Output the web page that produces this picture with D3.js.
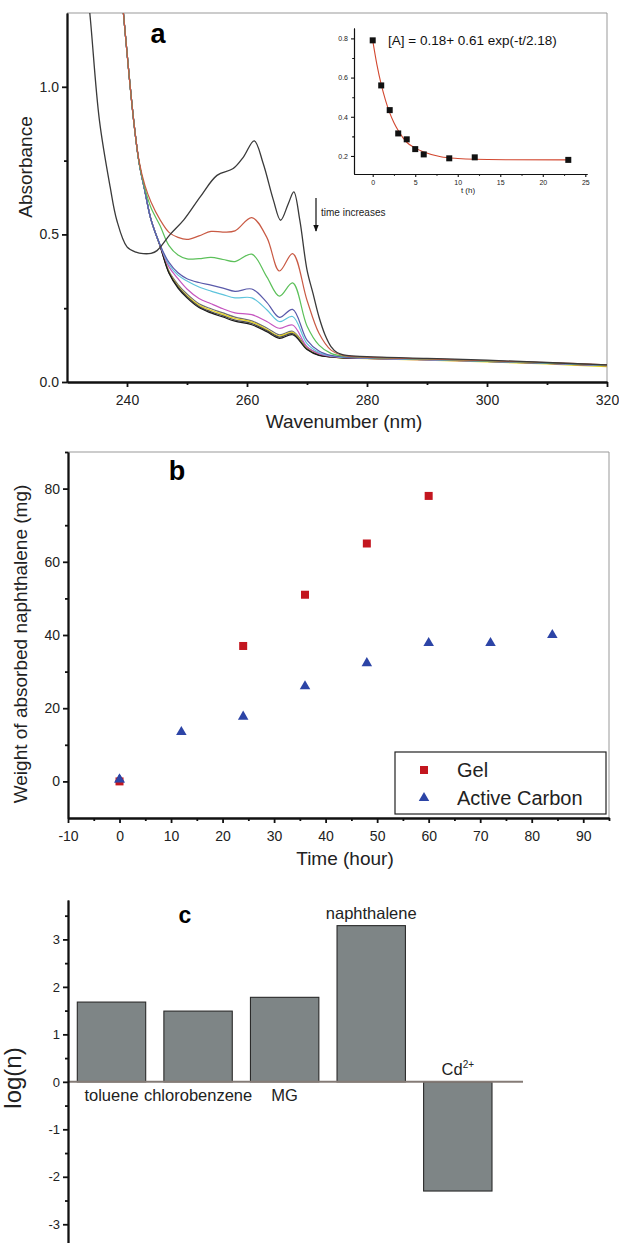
<!DOCTYPE html>
<meta charset="utf-8">
<script src="https://d3js.org/d3.v7.min.js"></script>
<style>
body { margin: 0; background: #fff; }
svg { font-family: "Liberation Sans", Arial, sans-serif; }
.frame { fill: none; stroke: #999; stroke-width: 1; }
</style>
<body>
<script>

// ---------- panel a : spectra ----------
var wlInit = [232.5, 233.8, 235.4, 237.2, 238.3, 240, 241.5, 242.7, 244, 245, 247.2, 249.5, 252.2, 255, 257.7, 259.4, 261.2, 262.7, 264.4, 265.6, 266.9, 267.8, 268.8, 270, 271, 272, 273, 274, 275, 276.6, 280, 290, 300, 310, 320];
var absInit = [1.5, 1.25, 0.887, 0.66, 0.548, 0.458, 0.44, 0.435, 0.436, 0.445, 0.50, 0.55, 0.627, 0.70, 0.723, 0.762, 0.817, 0.74, 0.616, 0.548, 0.605, 0.644, 0.548, 0.38, 0.30, 0.22, 0.16, 0.12, 0.10, 0.09, 0.086, 0.08, 0.074, 0.066, 0.058];

var wlLater = [238.5, 239.4, 240.3, 241.2, 242, 243, 244, 245.5, 247, 248.5, 250, 252, 254, 256, 258, 260.8, 263.3, 265.4, 267.6, 270, 272, 274, 276, 280, 290, 300, 310, 320];
var absRed     = [1.45, 1.25, 1.05, 0.87, 0.75, 0.665, 0.61, 0.55, 0.507, 0.49, 0.483, 0.495, 0.51, 0.508, 0.512, 0.557, 0.49, 0.376, 0.435, 0.277, 0.165, 0.108, 0.09, 0.084, 0.078, 0.072, 0.066, 0.058];
var absGreen   = [1.45, 1.25, 1.05, 0.87, 0.745, 0.655, 0.59, 0.53, 0.462, 0.43, 0.417, 0.418, 0.422, 0.415, 0.408, 0.433, 0.356, 0.291, 0.336, 0.19, 0.125, 0.097, 0.088, 0.083, 0.077, 0.071, 0.065, 0.057];
var absBlue    = [1.45, 1.25, 1.05, 0.87, 0.745, 0.645, 0.55, 0.465, 0.405, 0.37, 0.35, 0.337, 0.328, 0.318, 0.307, 0.315, 0.27, 0.219, 0.246, 0.142, 0.105, 0.09, 0.085, 0.082, 0.077, 0.071, 0.065, 0.057];
var absCyan    = [1.45, 1.25, 1.05, 0.87, 0.745, 0.645, 0.55, 0.465, 0.398, 0.362, 0.342, 0.322, 0.308, 0.296, 0.285, 0.285, 0.245, 0.205, 0.222, 0.13, 0.1, 0.088, 0.084, 0.081, 0.076, 0.07, 0.064, 0.056];
var absMagenta = [1.45, 1.25, 1.05, 0.87, 0.745, 0.645, 0.55, 0.464, 0.39, 0.35, 0.315, 0.283, 0.265, 0.248, 0.234, 0.228, 0.205, 0.182, 0.193, 0.12, 0.096, 0.087, 0.083, 0.08, 0.075, 0.07, 0.063, 0.055];
var absGray    = [1.45, 1.25, 1.05, 0.87, 0.745, 0.645, 0.55, 0.464, 0.375, 0.33, 0.298, 0.265, 0.248, 0.234, 0.22, 0.207, 0.183, 0.16, 0.172, 0.118, 0.096, 0.088, 0.084, 0.082, 0.077, 0.071, 0.065, 0.057];
var absYellow  = [1.45, 1.25, 1.05, 0.87, 0.745, 0.645, 0.55, 0.463, 0.372, 0.325, 0.292, 0.26, 0.243, 0.229, 0.215, 0.203, 0.178, 0.156, 0.168, 0.114, 0.092, 0.085, 0.081, 0.079, 0.074, 0.068, 0.061, 0.052];
var absDark    = [1.45, 1.25, 1.05, 0.87, 0.745, 0.645, 0.55, 0.462, 0.37, 0.322, 0.289, 0.256, 0.238, 0.224, 0.21, 0.198, 0.174, 0.152, 0.164, 0.112, 0.091, 0.085, 0.082, 0.08, 0.076, 0.07, 0.063, 0.055];
var absBlack   = [1.45, 1.25, 1.05, 0.87, 0.745, 0.645, 0.55, 0.461, 0.368, 0.318, 0.285, 0.252, 0.234, 0.22, 0.206, 0.194, 0.17, 0.148, 0.16, 0.11, 0.09, 0.085, 0.082, 0.08, 0.076, 0.07, 0.064, 0.056];

// inset: absorbance vs time
var insetT = [0, 1, 2, 3, 4, 5, 6, 9, 12, 23];
var insetA = [0.79, 0.56, 0.434, 0.315, 0.285, 0.235, 0.208, 0.188, 0.193, 0.18];
var fitT = [0, 0.5, 1, 1.5, 2, 2.5, 3, 4, 5, 6, 8, 10, 12, 16, 23];
var fitA = [0.79, 0.665, 0.565, 0.485, 0.42, 0.37, 0.33, 0.27, 0.24, 0.22, 0.196, 0.187, 0.183, 0.181, 0.18];

// ---------- panel b ----------
var gelTime = [0, 24, 36, 48, 60];
var gelWeight = [0, 37, 51, 65, 78];
var carbonTime = [0, 12, 24, 36, 48, 60, 72, 84];
var carbonWeight = [0.5, 13.5, 17.7, 26, 32.3, 37.8, 37.8, 40];

// ---------- panel c ----------
var sorbates = ["toluene", "chlorobenzene", "MG", "naphthalene", "Cd2+"];
var logN = [1.68, 1.49, 1.78, 3.29, -2.3];

var svg = d3.select("body").append("svg")
  .attr("width", 619).attr("height", 1243);

var dash = function(d) { return String(d); };

// draws an axis with major labelled ticks and small unlabelled ones
function drawAxis(g, gen, scale, major, minor, fmt, fs, len, sw) {
  var m = g.append("g")
    .call(gen(scale).tickValues(minor).tickSize(len * 0.6).tickFormat("").tickSizeOuter(0));
  var a = g.append("g")
    .call(gen(scale).tickValues(major).tickSize(len).tickFormat(fmt).tickSizeOuter(0));
  g.selectAll("path,line").attr("stroke", "#111").style("stroke-width", sw || 1.8);
  a.selectAll("text").style("font-size", fs + "px").attr("fill", "#222");
  return a;
}

// ===== panel a =====
var xa = d3.scaleLinear().domain([230, 320]).range([67, 607]);
var ya = d3.scaleLinear().domain([0, 1.25]).range([382, 13]);

svg.append("defs").append("clipPath").attr("id", "clipA")
  .append("rect").attr("x", 67).attr("y", 13).attr("width", 540).attr("height", 369);

svg.append("path").attr("class", "frame")
  .attr("d", "M67,13H607V382");

var series = [
  {c: "#6f6f6f", v: absGray}, {c: "#e5d21c", v: absYellow}, {c: "#4a4a4a", v: absDark},
  {c: "#1a1a1a", v: absBlack}, {c: "#c656c0", v: absMagenta}, {c: "#5ec4dc", v: absCyan},
  {c: "#5a5aaa", v: absBlue}, {c: "#5cc05a", v: absGreen}, {c: "#c95a44", v: absRed}
];

var line = d3.line()
  .x(function(d) { return xa(d[0]); })
  .y(function(d) { return ya(d[1]); })
  .curve(d3.curveCatmullRom.alpha(0.5));

var plotA = svg.append("g").attr("clip-path", "url(#clipA)");
series.forEach(function(s) {
  plotA.append("path")
    .attr("d", line(wlLater.map(function(w, i) { return [w, s.v[i]]; })))
    .attr("fill", "none").attr("stroke", s.c).attr("stroke-width", 1.2);
});
plotA.append("path")
  .attr("d", line(wlInit.map(function(w, i) { return [w, absInit[i]]; })))
  .attr("fill", "none").attr("stroke", "#3a3a3a").attr("stroke-width", 1.3);

var gxa = svg.append("g").attr("transform", "translate(0,382)");
drawAxis(gxa, d3.axisBottom, xa, [240, 260, 280, 300, 320], [250, 270, 290, 310], dash, 14, 5)
  .selectAll("text").attr("dy", "1.05em");
var gya = svg.append("g").attr("transform", "translate(67,0)");
drawAxis(gya, d3.axisLeft, ya, [0, 0.5, 1.0], [0.25, 0.75], d3.format(".1f"), 14, 5);

svg.append("text").attr("x", 344).attr("y", 428).attr("text-anchor", "middle")
  .style("font-size", "19px").attr("fill", "#222").text("Wavenumber (nm)");
svg.append("text").attr("transform", "translate(32,167) rotate(-90)").attr("text-anchor", "middle")
  .style("font-size", "19px").attr("fill", "#222").text("Absorbance");
svg.append("text").attr("x", 158).attr("y", 43).attr("text-anchor", "middle")
  .style("font-size", "27px").style("font-weight", "bold").text("a");

// arrow + note
svg.append("defs").append("marker").attr("id", "arr")
  .attr("viewBox", "0 0 10 10").attr("refX", 9).attr("refY", 5)
  .attr("markerWidth", 6).attr("markerHeight", 7).attr("orient", "auto")
  .append("path").attr("d", "M0,1L10,5L0,9Z").attr("fill", "#111");
svg.append("line").attr("x1", 316).attr("x2", 316).attr("y1", 198).attr("y2", 231)
  .attr("stroke", "#111").attr("stroke-width", 1.2).attr("marker-end", "url(#arr)");
svg.append("text").attr("x", 321).attr("y", 216).style("font-size", "10px")
  .attr("fill", "#222").text("time increases");

// inset
var xi = d3.scaleLinear().domain([-2.2, 25.2]).range([354, 587]);
var yi = d3.scaleLinear().domain([0.108, 0.853]).range([174, 28]);
var gxi = svg.append("g").attr("transform", "translate(0,174)");
drawAxis(gxi, d3.axisBottom, xi, [0, 5, 10, 15, 20, 25], [2.5, 7.5, 12.5, 17.5, 22.5], dash, 7, 3, 1.1);
var gyi = svg.append("g").attr("transform", "translate(354,0)");
drawAxis(gyi, d3.axisLeft, yi, [0.2, 0.4, 0.6, 0.8], [0.3, 0.5, 0.7], d3.format(".1f"), 7, 3, 1.1);
svg.append("text").attr("x", 468).attr("y", 193).attr("text-anchor", "middle")
  .style("font-size", "8px").attr("fill", "#222").text("t (h)");

svg.append("path")
  .attr("d", d3.line().x(function(d) { return xi(d[0]); }).y(function(d) { return yi(d[1]); })
    .curve(d3.curveMonotoneX)(fitT.map(function(t, i) { return [t, fitA[i]]; })))
  .attr("fill", "none").attr("stroke", "#d2472f").attr("stroke-width", 1.1);
svg.append("g").selectAll("rect").data(insetT).enter().append("rect")
  .attr("x", function(d) { return xi(d) - 3; })
  .attr("y", function(d, i) { return yi(insetA[i]) - 3; })
  .attr("width", 6).attr("height", 6).attr("fill", "#111");
svg.append("text").attr("x", 388).attr("y", 45).style("font-size", "13.5px")
  .attr("fill", "#111").text("[A] = 0.18+ 0.61 exp(-t/2.18)");

// ===== panel b =====
var xb = d3.scaleLinear().domain([-10, 95]).range([68, 609]);
var yb = d3.scaleLinear().domain([-10, 90]).range([818, 452]);

svg.append("path").attr("class", "frame").attr("d", "M68,452H609V818");

var gxb = svg.append("g").attr("transform", "translate(0,818)");
drawAxis(gxb, d3.axisBottom, xb, d3.range(-10, 91, 10), d3.range(-5, 96, 10), dash, 14, 5)
  .selectAll("text").attr("dy", "1.05em");
var gyb = svg.append("g").attr("transform", "translate(68,0)");
drawAxis(gyb, d3.axisLeft, yb, [0, 20, 40, 60, 80], [10, 30, 50, 70, 90], dash, 14, 5);

svg.append("g").selectAll("path").data(carbonTime).enter().append("path")
  .attr("d", d3.symbol().type(d3.symbolTriangle).size(48))
  .attr("transform", function(d, i) { return "translate(" + xb(d) + "," + yb(carbonWeight[i]) + ")"; })
  .attr("fill", "#2c44a6");
svg.append("g").selectAll("rect").data(gelTime).enter().append("rect")
  .attr("x", function(d) { return xb(d) - 4; })
  .attr("y", function(d, i) { return yb(gelWeight[i]) - 4; })
  .attr("width", 8).attr("height", 8).attr("fill", "#c3161f");
// the carbon point at t = 0 sits on top of the gel square
svg.append("path").attr("d", d3.symbol().type(d3.symbolTriangle).size(48))
  .attr("transform", "translate(" + xb(carbonTime[0]) + "," + yb(carbonWeight[0]) + ")")
  .attr("fill", "#2c44a6");

var leg = svg.append("g");
leg.append("rect").attr("x", 395).attr("y", 752).attr("width", 211).attr("height", 62)
  .attr("fill", "#fff").attr("stroke", "#222").attr("stroke-width", 1.2);
leg.append("rect").attr("x", 420).attr("y", 766).attr("width", 8).attr("height", 8).attr("fill", "#c3161f");
leg.append("path").attr("d", d3.symbol().type(d3.symbolTriangle).size(48))
  .attr("transform", "translate(424,798)").attr("fill", "#2c44a6");
leg.append("text").attr("x", 457).attr("y", 777).style("font-size", "20px").attr("fill", "#222").text("Gel");
leg.append("text").attr("x", 457).attr("y", 805).style("font-size", "20px").attr("fill", "#222").text("Active Carbon");

svg.append("text").attr("x", 345).attr("y", 865).attr("text-anchor", "middle")
  .style("font-size", "19px").attr("fill", "#222").text("Time (hour)");
svg.append("text").attr("transform", "translate(27,644) rotate(-90)").attr("text-anchor", "middle")
  .style("font-size", "19px").attr("fill", "#222").text("Weight of absorbed naphthalene (mg)");
svg.append("text").attr("x", 177).attr("y", 480).attr("text-anchor", "middle")
  .style("font-size", "27px").style("font-weight", "bold").text("b");

// ===== panel c =====
var yc = d3.scaleLinear().domain([-3.5, 3.83]).range([1248, 900]);
var xc = d3.scaleBand().domain(sorbates).range([77.3, 492]).paddingInner(0.21).paddingOuter(0);

svg.append("g").selectAll("rect").data(sorbates).enter().append("rect")
  .attr("x", function(d) { return xc(d); })
  .attr("width", xc.bandwidth())
  .attr("y", function(d, i) { return yc(Math.max(0, logN[i])); })
  .attr("height", function(d, i) { return Math.abs(yc(logN[i]) - yc(0)); })
  .attr("fill", "#7e8586").attr("stroke", "#2a2a2a").attr("stroke-width", 1.1);

svg.append("line").attr("x1", 68).attr("x2", 523).attr("y1", yc(0)).attr("y2", yc(0))
  .attr("stroke", "#857b76").attr("stroke-width", 2);

var gyc = svg.append("g").attr("transform", "translate(68,0)");
drawAxis(gyc, d3.axisLeft, yc, [-3, -2, -1, 0, 1, 2, 3], [-3.5, -2.5, -1.5, -0.5, 0.5, 1.5, 2.5, 3.5], dash, 13, 5);

var lab = svg.append("g").style("font-size", "16.5px").attr("fill", "#222").attr("text-anchor", "middle");
sorbates.forEach(function(s, i) {
  var cx = xc(s) + xc.bandwidth() / 2;
  var t = lab.append("text").attr("x", cx);
  if (s === "naphthalene") t.attr("y", yc(logN[i]) - 7).text(s);
  else if (s === "Cd2+") {
    t.attr("y", yc(0) - 7).text("Cd");
    t.append("tspan").attr("dy", -7).style("font-size", "10px").text("2+");
  } else t.attr("y", yc(0) + 19).text(s);
});

svg.append("text").attr("transform", "translate(21,1078) rotate(-90)").attr("text-anchor", "middle")
  .style("font-size", "24px").attr("fill", "#222").text("log(n)");
svg.append("text").attr("x", 185).attr("y", 923).attr("text-anchor", "middle")
  .style("font-size", "23px").style("font-weight", "bold").text("c");

</script>
